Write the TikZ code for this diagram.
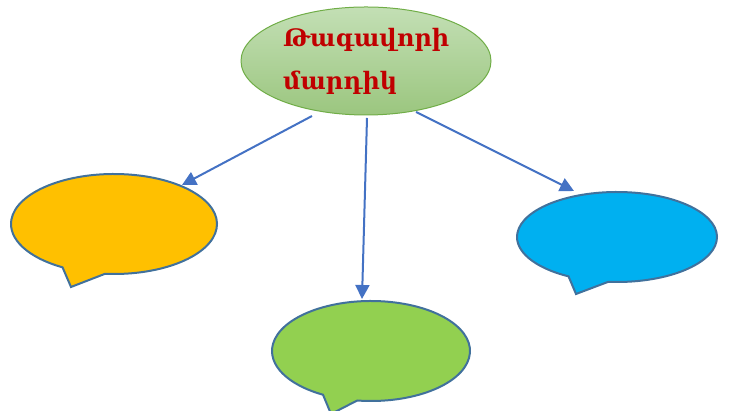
\documentclass[tikz,border=0pt]{standalone}
\usepackage{fontspec}
\newfontfamily\armfont{DejaVu Serif}
\usetikzlibrary{shapes.geometric,arrows.meta}
\definecolor{kingtop}{HTML}{C3DFB5}
\definecolor{kingbot}{HTML}{9BC67F}
\definecolor{kingline}{HTML}{70AD47}
\definecolor{txtred}{HTML}{C00000}
\definecolor{bubline}{HTML}{41719C}
\definecolor{arrblue}{HTML}{4472C4}
\definecolor{byellow}{HTML}{FFC000}
\definecolor{bgreen}{HTML}{92D050}
\definecolor{bblue}{HTML}{00B0F0}
\tikzset{
  bubble/.style={draw=bubline, line width=2pt, line join=miter},
  conn/.style={draw=arrblue, line width=2pt, -{Triangle[length=14pt,width=14pt]}},
}
\begin{document}
\begin{tikzpicture}[x=1pt,y=1pt]
\useasboundingbox (0,0) rectangle (730,411);
% top ellipse
\node[ellipse, draw=kingline, line width=1pt, top color=kingtop, bottom color=kingbot,
      minimum width=250pt, minimum height=108pt, inner sep=0pt] (king) at (366,350) {};
\node[anchor=base west, align=left, text=txtred, inner sep=0pt,
      font=\armfont\bfseries\fontsize{24}{43}\selectfont] (title) at (283,321)
  {Թագավորի\\մարդիկ};
% bubbles
\fill[byellow] (114,187) ++(265:103 and 50) arc[start angle=265, end angle=600, x radius=103, y radius=50] -- (71,124) -- cycle;
\draw[bubble] (114,187) ++(265:103 and 50) arc[start angle=265, end angle=600, x radius=103, y radius=50] -- (71,124) -- cycle;
\fill[bgreen] (371,60) ++(262:99 and 50) arc[start angle=262, end angle=601, x radius=99, y radius=50] -- (331,-3) -- cycle;
\draw[bubble] (371,60) ++(262:99 and 50) arc[start angle=262, end angle=601, x radius=99, y radius=50] -- (331,-3) -- cycle;
\fill[bblue] (617,174) ++(265:100 and 45) arc[start angle=265, end angle=601, x radius=100, y radius=45] -- (576,117) -- cycle;
\draw[bubble] (617,174) ++(265:100 and 45) arc[start angle=265, end angle=601, x radius=100, y radius=45] -- (576,117) -- cycle;
% connector end points
\coordinate (s1) at (312,295);
\coordinate (s2) at (367,293);
\coordinate (s3) at (416,299);
\coordinate (e1) at (182,226);
\coordinate (e2) at (362,112);
\coordinate (e3) at (574,220);
\draw[conn] (s1) -- (e1);
\draw[conn] (s2) -- (e2);
\draw[conn] (s3) -- (e3);
\end{tikzpicture}
\end{document}
